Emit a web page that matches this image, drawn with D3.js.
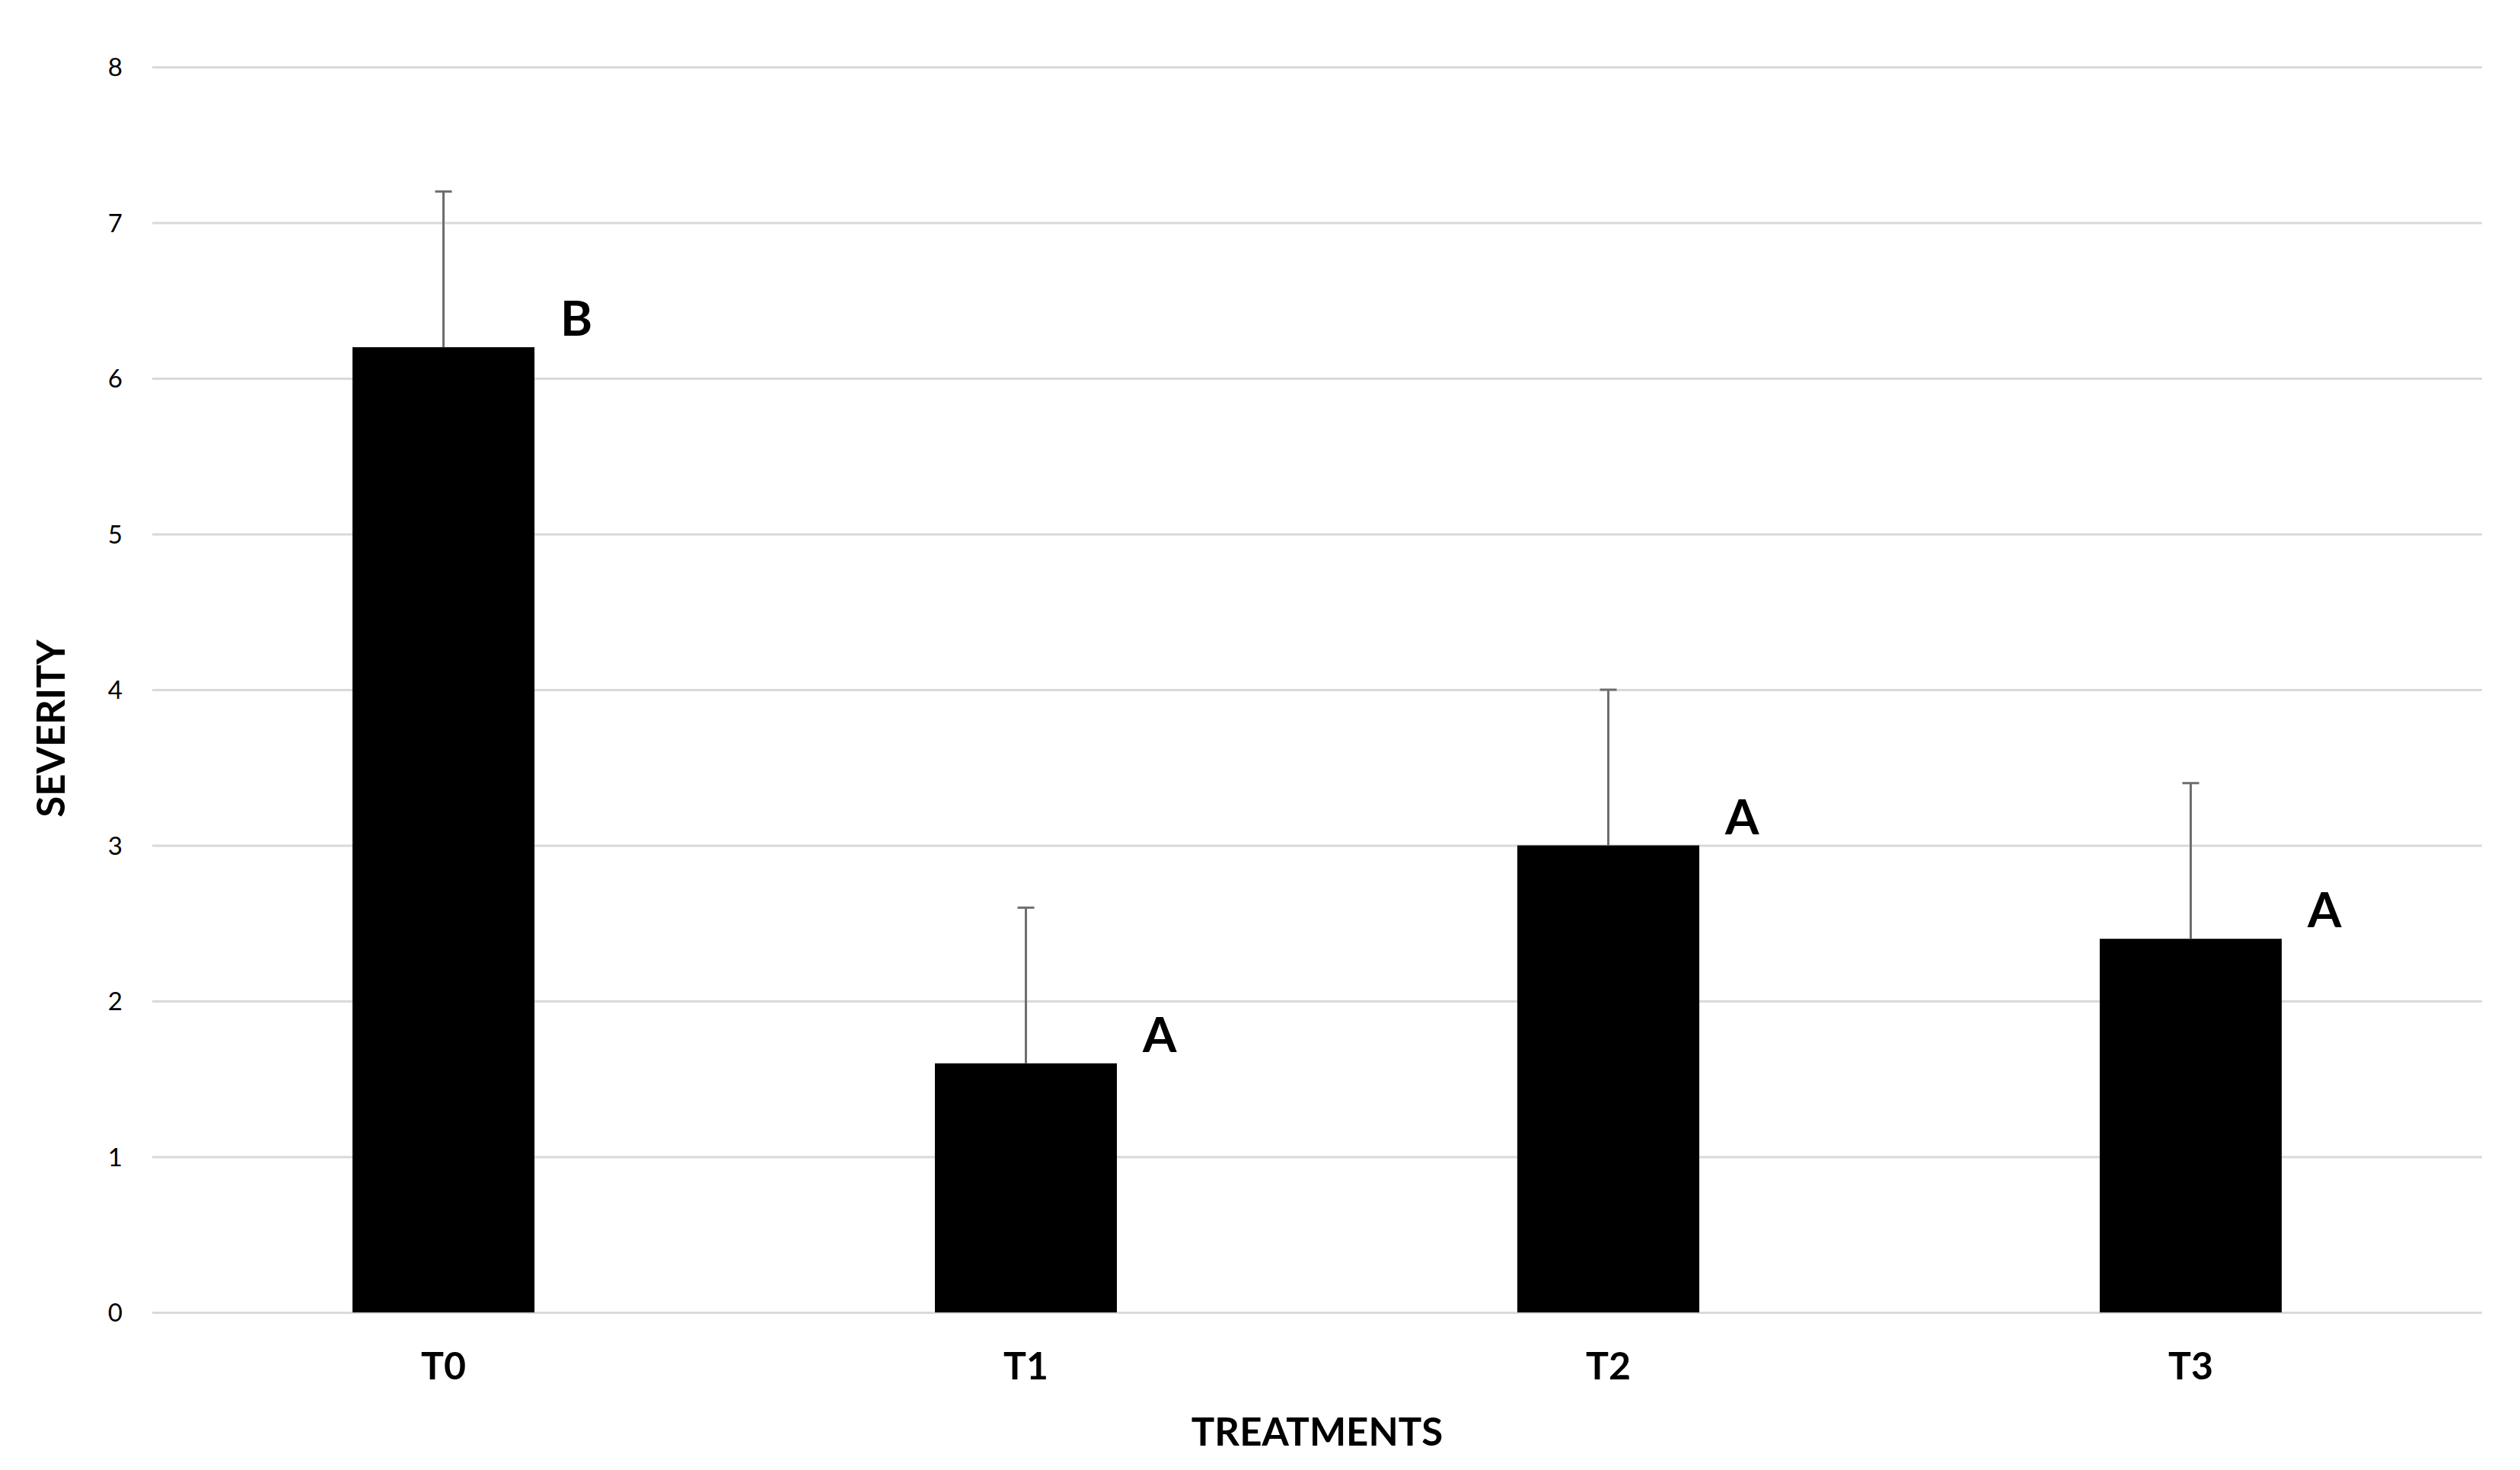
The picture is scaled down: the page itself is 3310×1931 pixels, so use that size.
<!DOCTYPE html>
<html>
<head>
<meta charset="utf-8">
<script src="https://cdn.jsdelivr.net/npm/d3@7"></script>
<style>
  html, body { margin: 0; padding: 0; background: #ffffff; }
  svg { display: block; }
</style>
</head>
<body>
<script>
// ---- data ----
const categories = ["T0", "T1", "T2", "T3"];
const severity = [6.2, 1.6, 3.0, 2.4];
const errors = [1.0, 1.0, 1.0, 1.0];
const letters = ["B", "A", "A", "A"];
const yTicks = [0, 1, 2, 3, 4, 5, 6, 7, 8];
const xTitle = "TREATMENTS";
const yTitle = "SEVERITY";

// ---- layout ----
const W = 3310, H = 1931;
const plotLeft = 200, plotRight = 3260, plotTop = 88, plotBottom = 1724;
const font = "Lato, Carlito, Calibri, 'Open Sans', sans-serif";

const svg = d3.select("body").append("svg")
  .attr("width", W).attr("height", H)
  .style("background", "#ffffff");

const x = d3.scaleBand()
  .domain(categories)
  .range([plotLeft, plotRight])
  .paddingInner(0.6875)
  .paddingOuter(0.34375);

const y = d3.scaleLinear().domain([0, 8]).range([plotBottom, plotTop]);

// gridlines
const grid = svg.append("g")
  .attr("transform", `translate(${plotLeft},0)`)
  .call(d3.axisLeft(y).tickValues(yTicks).tickSize(-(plotRight - plotLeft)).tickFormat(""));
grid.select(".domain").remove();
grid.selectAll(".tick line").attr("stroke", "#d9d9d9").attr("stroke-width", 3);

// y tick labels
const yAxis = svg.append("g")
  .attr("transform", `translate(${plotLeft},0)`)
  .call(d3.axisLeft(y).tickValues(yTicks).tickSize(0).tickPadding(39).tickFormat(d3.format("d")));
yAxis.select(".domain").remove();
yAxis.selectAll("text")
  .attr("font-family", font).attr("font-size", 33).attr("fill", "#000")
  .attr("dy", "0.36em");

// bars
const data = categories.map((c, i) => ({c, v: severity[i], e: errors[i], l: letters[i]}));
svg.append("g").selectAll("rect").data(data).join("rect")
  .attr("x", d => x(d.c))
  .attr("y", d => y(d.v))
  .attr("width", x.bandwidth())
  .attr("height", d => y(0) - y(d.v))
  .attr("fill", "#000");

// error bars (upper only)
const eb = svg.append("g").attr("stroke", "#6e6e6e").attr("stroke-width", 3);
eb.selectAll("line.v").data(data).join("line").attr("class", "v")
  .attr("x1", d => x(d.c) + x.bandwidth() / 2)
  .attr("x2", d => x(d.c) + x.bandwidth() / 2)
  .attr("y1", d => y(d.v))
  .attr("y2", d => y(d.v + d.e));
eb.selectAll("line.cap").data(data).join("line").attr("class", "cap")
  .attr("x1", d => x(d.c) + x.bandwidth() / 2 - 11)
  .attr("x2", d => x(d.c) + x.bandwidth() / 2 + 11)
  .attr("y1", d => y(d.v + d.e))
  .attr("y2", d => y(d.v + d.e));

// significance letters
svg.append("g").selectAll("text").data(data).join("text")
  .attr("x", d => x(d.c) + x.bandwidth() + 34)
  .attr("y", d => y(d.v) - 15)
  .attr("font-family", font).attr("font-weight", "bold").attr("font-size", 64)
  .attr("fill", "#000")
  .text(d => d.l);

// x axis labels
const xAxis = svg.append("g")
  .attr("transform", `translate(0,${plotBottom})`)
  .call(d3.axisBottom(x).tickSize(0));
xAxis.select(".domain").remove();
xAxis.selectAll("text")
  .attr("y", 88).attr("dy", null)
  .attr("font-family", font).attr("font-weight", "bold").attr("font-size", 50)
  .attr("fill", "#000");

// axis titles
svg.append("text")
  .attr("x", (plotLeft + plotRight) / 2).attr("y", 1899)
  .attr("text-anchor", "middle")
  .attr("font-family", font).attr("font-weight", "bold").attr("font-size", 51)
  .attr("fill", "#000")
  .text(xTitle);

svg.append("text")
  .attr("transform", "translate(85,957) rotate(-90)")
  .attr("text-anchor", "middle")
  .attr("font-family", font).attr("font-weight", "bold").attr("font-size", 51)
  .attr("fill", "#000")
  .text(yTitle);
</script>
</body>
</html>
